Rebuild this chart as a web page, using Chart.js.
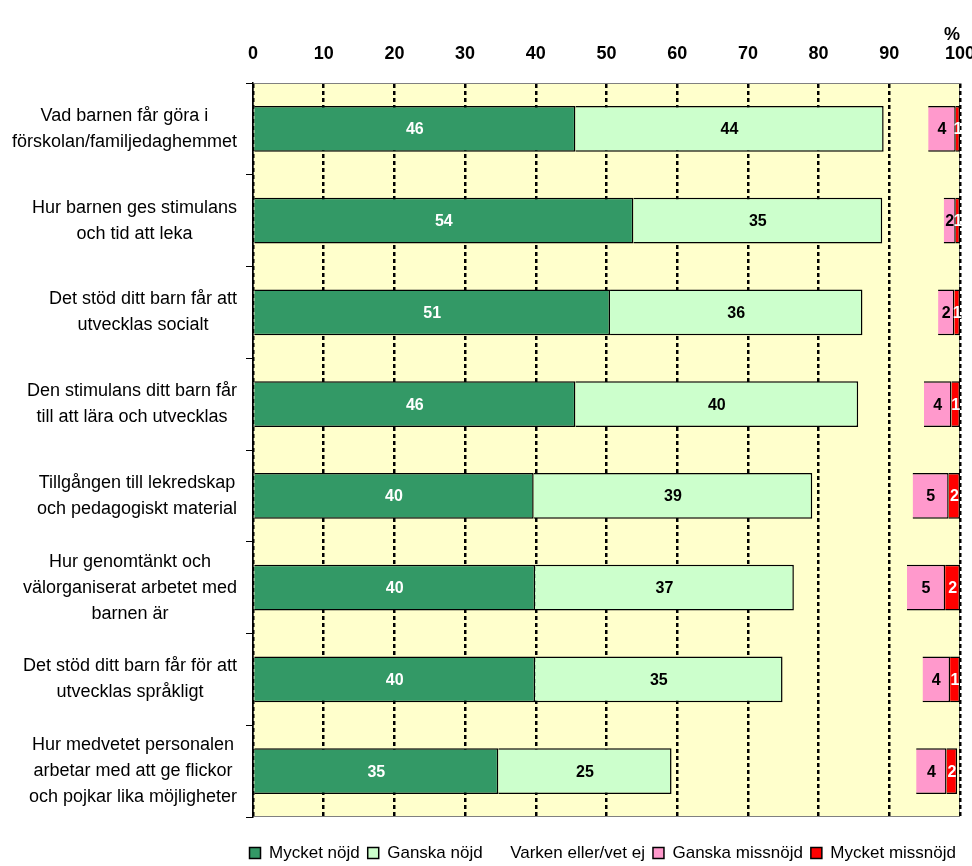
<!DOCTYPE html>
<html>
<head>
<meta charset="utf-8">
<script src="https://cdn.jsdelivr.net/npm/chart.js@4"></script>
<style>
  html, body { margin: 0; padding: 0; background: #fff; }
  #wrap { width: 972px; height: 866px; }
</style>
</head>
<body>
<div id="wrap"><canvas id="chart" width="972" height="866"></canvas></div>
<script>
// Frågor (y-axeln)
const categories = [
  ['Vad barnen får göra i', 'förskolan/familjedaghemmet'],
  ['Hur barnen ges stimulans', 'och tid att leka'],
  ['Det stöd ditt barn får att', 'utvecklas socialt'],
  ['Den stimulans ditt barn får', 'till att lära och utvecklas'],
  ['Tillgången till lekredskap', 'och pedagogiskt material'],
  ['Hur genomtänkt och', 'välorganiserat arbetet med', 'barnen är'],
  ['Det stöd ditt barn får för att', 'utvecklas språkligt'],
  ['Hur medvetet personalen', 'arbetar med att ge flickor', 'och pojkar lika möjligheter']
];

// Andel i procent
const mycketNojd     = [45.6, 53.8, 50.5, 45.6, 39.7, 39.9, 39.9, 34.7];
const ganskaNojd     = [43.6, 35.2, 35.7, 40.0, 39.4, 36.6, 35.0, 24.5];
const varken         = [6.3, 8.7, 10.7, 9.3, 14.2, 16.0, 19.8, 34.6];
const ganskaMissnojd = [3.9, 1.7, 2.3, 3.9, 5.1, 5.4, 3.9, 4.3];
const mycketMissnojd = [0.6, 0.6, 0.8, 1.2, 1.6, 2.1, 1.4, 1.5];

const xTicks = [0, 10, 20, 30, 40, 50, 60, 70, 80, 90, 100];

const FONT = "'Liberation Sans', Arial, sans-serif";

// bakgrund och ram för ritytan
const plotBg = {
  id: 'plotBg',
  beforeDraw(chart) {
    const a = chart.chartArea;
    const c = chart.ctx;
    c.save();
    c.fillStyle = '#FFFFCC';
    c.fillRect(a.left, a.top, a.right - a.left, a.bottom - a.top);
    c.strokeStyle = '#808080';
    c.lineWidth = 1;
    c.strokeRect(a.left + 0.5, a.top + 0.5, a.right - a.left - 1, a.bottom - a.top - 1);
    c.restore();
  }
};

// etiketter i staplarna
const barLabels = {
  id: 'barLabels',
  afterDatasetsDraw(chart) {
    const c = chart.ctx;
    c.save();
    c.font = 'bold 16px ' + FONT;
    c.textAlign = 'center';
    c.textBaseline = 'middle';
    chart.data.datasets.forEach((ds, di) => {
      if (!ds.labelColor) return;
      chart.getDatasetMeta(di).data.forEach((bar, i) => {
        const v = ds.data[i];
        c.fillStyle = ds.labelColor;
        c.fillText(Math.round(v), (bar.x + bar.base) / 2, bar.y + 1);
      });
    });
    c.restore();
  }
};

// kategorietiketter, centrerade per block och högerställda mot axeln
const catLabels = {
  id: 'catLabels',
  afterDraw(chart) {
    const c = chart.ctx;
    const yScale = chart.scales.y;
    c.save();
    c.font = '18px ' + FONT;
    c.fillStyle = '#000';
    c.textAlign = 'center';
    c.textBaseline = 'middle';
    chart.data.labels.forEach((lines, i) => {
      const yc = yScale.getPixelForValue(i);
      const widest = Math.max(...lines.map(l => c.measureText(l).width));
      const cx = yScale.right - 16 - widest / 2;
      lines.forEach((l, j) => {
        c.fillText(l, cx, yc + (j - (lines.length - 1) / 2) * 26);
      });
    });
    c.restore();
  }
};

const ctx = document.getElementById('chart').getContext('2d');
new Chart(ctx, {
  type: 'bar',
  data: {
    labels: categories,
    datasets: [
      { label: 'Mycket nöjd', data: mycketNojd, backgroundColor: '#339966', borderColor: '#000', borderWidth: 1.5, labelColor: '#fff' },
      { label: 'Ganska nöjd', data: ganskaNojd, backgroundColor: '#CCFFCC', borderColor: '#000', borderWidth: 1.5, labelColor: '#000' },
      { label: 'Varken eller/vet ej', data: varken, backgroundColor: 'rgba(0,0,0,0)', borderColor: 'rgba(0,0,0,0)', borderWidth: 0 },
      { label: 'Ganska missnöjd', data: ganskaMissnojd, backgroundColor: '#FF99CC', borderColor: '#000', borderWidth: 1.5, labelColor: '#000' },
      { label: 'Mycket missnöjd', data: mycketMissnojd, backgroundColor: '#FF0000', borderColor: '#000', borderWidth: 1.5, labelColor: '#fff' }
    ]
  },
  options: {
    indexAxis: 'y',
    responsive: false,
    animation: false,
    categoryPercentage: 0.5,
    barPercentage: 1.0,
    layout: { padding: { left: 0, right: 8, top: 0, bottom: -5.5 } },
    scales: {
      x: {
        position: 'top',
        stacked: true,
        min: 0,
        max: 100,
        afterBuildTicks(scale) {
          scale.ticks = xTicks.map(v => ({ value: v }));
        },
        afterFit(scale) {
          scale.height = 83;
          scale.paddingLeft = 0;
          scale.paddingRight = 12;
        },
        ticks: {
          padding: 18,
          color: '#000',
          font: { family: FONT, size: 18, weight: 'bold' }
        },
        grid: {
          color: '#000',
          lineWidth: 2.5,
          drawTicks: false
        },
        border: { display: true, color: '#808080', width: 1, dash: [4, 3] },
        title: {
          display: true,
          text: '%',
          align: 'end',
          color: '#000',
          font: { family: FONT, size: 18, weight: 'bold' },
          padding: { top: 24, bottom: 0 }
        }
      },
      y: {
        stacked: true,
        afterFit(scale) { scale.width = 253; },
        ticks: { display: false },
        grid: {
          drawOnChartArea: false,
          drawTicks: true,
          tickLength: 7,
          color: '#000',
          offset: true
        },
        border: { display: true, color: '#000', width: 1.5 }
      }
    },
    plugins: {
      legend: {
        position: 'bottom',
        align: 'end',
        title: {
          display: true,
          text: '',
          font: { family: FONT, size: 10, lineHeight: 1.15 },
          padding: { top: 4, bottom: 4 }
        },
        labels: {
          color: '#000',
          boxWidth: 11,
          boxHeight: 11,
          padding: 8,
          font: { family: FONT, size: 17 }
        }
      },
      tooltip: { enabled: false }
    }
  },
  plugins: [plotBg, barLabels, catLabels]
});
</script>
</body>
</html>
